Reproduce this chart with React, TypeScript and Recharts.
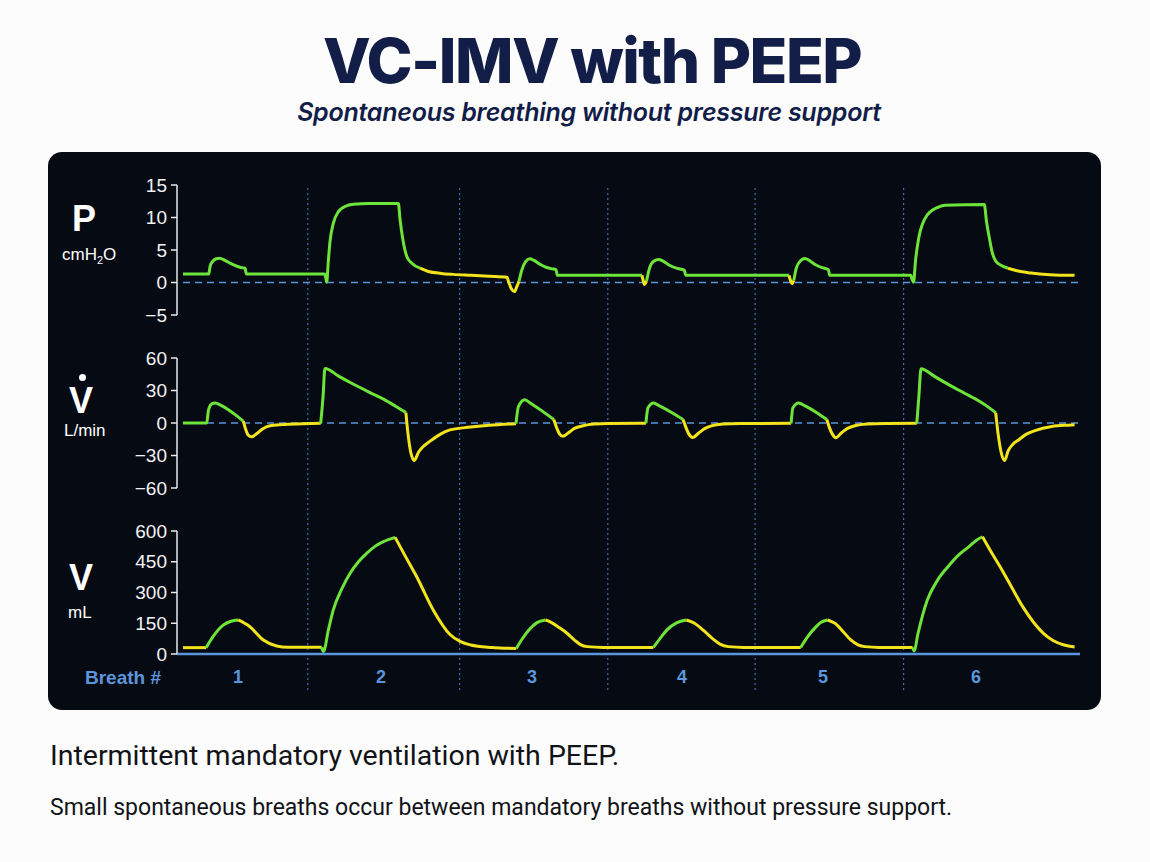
import React from 'react';
import { LineChart, Line, XAxis, YAxis, ReferenceLine } from 'recharts';

type Pt = [number, number];
type Seg = { insp: boolean; pts: Pt[] };

// time in seconds, green = inspiration, yellow = expiration
const pressureSegs: Seg[] = [
  { insp: true, pts: [[0, 1.3], [0.86, 1.3], [0.9, 2.4], [0.98, 3.2], [1.1, 3.65], [1.22, 3.75], [1.4, 3.4], [1.6, 2.9], [1.8, 2.5], [2.0, 2.25], [2.07, 2.2], [2.11, 1.3], [4.72, 1.3], [4.76, 0.7], [4.79, 0.05], [4.84, 3.0], [4.9, 6.3], [5.01, 9.1], [5.18, 10.9], [5.4, 11.7], [5.68, 12.05], [6.2, 12.15], [7.18, 12.15], [7.23, 9.9], [7.34, 6.3], [7.46, 4.0], [7.62, 3.0], [7.9, 2.2]] },
  { insp: false, pts: [[7.9, 2.2], [8.18, 1.7], [8.6, 1.4], [9.0, 1.25], [9.6, 1.1], [10.2, 0.95], [10.8, 0.8], [10.86, 0.0], [10.95, -1.0], [11.05, -1.4], [11.13, -0.6], [11.2, 0.2]] },
  { insp: true, pts: [[11.2, 0.2], [11.3, 2.0], [11.42, 3.2], [11.56, 3.65], [11.7, 3.4], [11.9, 2.8], [12.1, 2.35], [12.3, 2.1], [12.43, 2.0], [12.48, 1.1], [15.3, 1.1]] },
  { insp: false, pts: [[15.3, 1.1], [15.34, 0.3], [15.38, -0.3], [15.45, 0.2]] },
  { insp: true, pts: [[15.45, 0.2], [15.55, 2.2], [15.7, 3.3], [15.86, 3.55], [16.0, 3.3], [16.2, 2.7], [16.45, 2.2], [16.71, 1.9], [16.76, 1.1], [20.2, 1.1]] },
  { insp: false, pts: [[20.2, 1.1], [20.25, 0.3], [20.3, -0.2], [20.36, 0.3]] },
  { insp: true, pts: [[20.36, 0.3], [20.45, 2.3], [20.6, 3.4], [20.73, 3.7], [20.9, 3.3], [21.1, 2.7], [21.3, 2.3], [21.51, 2.0], [21.56, 1.1], [24.26, 1.1], [24.3, 0.5], [24.35, 0.05], [24.42, 3.5], [24.53, 7.0], [24.65, 9.0], [24.81, 10.4], [25.0, 11.2], [25.15, 11.55], [25.4, 11.9], [26.71, 12.0], [26.78, 9.5], [26.88, 6.8], [26.98, 4.5], [27.09, 3.3], [27.25, 2.7], [27.5, 2.2]] },
  { insp: false, pts: [[27.5, 2.2], [27.8, 1.8], [28.27, 1.45], [28.9, 1.2], [29.72, 1.1]] },
];

const flowSegs: Seg[] = [
  { insp: true, pts: [[0, 0], [0.79, 0], [0.85, 12], [0.95, 17.5], [1.07, 18.5], [1.25, 16.5], [1.5, 12.5], [1.75, 7.5], [2.01, 1.7]] },
  { insp: false, pts: [[2.01, 1.7], [2.08, -5], [2.17, -11], [2.29, -12.8], [2.45, -10], [2.65, -5.5], [2.9, -2.6], [3.3, -1.5], [4.0, -0.8], [4.59, -0.3]] },
  { insp: true, pts: [[4.59, -0.3], [4.67, 25], [4.73, 50.4], [5.2, 43], [5.7, 35.5], [6.2, 28.5], [6.7, 21.8], [7.1, 15.2], [7.43, 9.6]] },
  { insp: false, pts: [[7.43, 9.6], [7.5, -10], [7.6, -28], [7.71, -34.5], [7.85, -27], [8.0, -22], [8.25, -16.5], [8.6, -10], [8.9, -6.4], [9.5, -4], [10.2, -2], [11.1, -0.6]] },
  { insp: true, pts: [[11.1, -0.6], [11.18, 15], [11.39, 21.4], [11.6, 18], [12.0, 10.5], [12.36, 3.2]] },
  { insp: false, pts: [[12.36, 3.2], [12.45, -4], [12.55, -10], [12.66, -12.2], [12.85, -9], [13.05, -5], [13.33, -2.6], [13.7, -1], [14.2, -0.5], [15.43, -0.3]] },
  { insp: true, pts: [[15.43, -0.3], [15.5, 14], [15.68, 18.5], [15.9, 15.5], [16.3, 9.5], [16.67, 3.2]] },
  { insp: false, pts: [[16.67, 3.2], [16.77, -4.5], [16.87, -10.5], [16.99, -13.3], [17.2, -9], [17.4, -5], [17.61, -2.6], [18.0, -1], [18.6, -0.5], [20.27, -0.3]] },
  { insp: true, pts: [[20.27, -0.3], [20.33, 14], [20.52, 18.5], [20.75, 15.5], [21.1, 10], [21.46, 3.2]] },
  { insp: false, pts: [[21.46, 3.2], [21.55, -4.5], [21.65, -10.5], [21.76, -13.6], [21.95, -9], [22.15, -5], [22.39, -2.6], [22.8, -1], [23.5, -0.5], [24.46, -0.3]] },
  { insp: true, pts: [[24.46, -0.3], [24.53, 25], [24.6, 50.1], [25.05, 43], [25.55, 35], [26.05, 27.5], [26.55, 20], [26.9, 13.5], [27.09, 9.6]] },
  { insp: false, pts: [[27.09, 9.6], [27.17, -10], [27.28, -28], [27.39, -34.5], [27.5, -26], [27.65, -20], [27.85, -15.7], [28.1, -10.5], [28.4, -7], [28.96, -3.2], [29.51, -2], [29.72, -1.7]] },
];

const volumeSegs: Seg[] = [
  { insp: false, pts: [[0, 31], [0.77, 31]] },
  { insp: true, pts: [[0.77, 31], [1.0, 85], [1.34, 141], [1.6, 160], [1.84, 166]] },
  { insp: false, pts: [[1.84, 166], [2.23, 133], [2.68, 68], [3.12, 39], [3.5, 33], [4.62, 33]] },
  { insp: true, pts: [[4.62, 33], [4.68, 12], [4.85, 120], [5.01, 215], [5.3, 320], [5.57, 394], [5.85, 450], [6.12, 491], [6.4, 525], [6.68, 548], [7.07, 569]] },
  { insp: false, pts: [[7.07, 569], [7.4, 480], [7.79, 377], [8.34, 215], [8.9, 95], [9.25, 60], [9.59, 44], [10.28, 32], [11.11, 27]] },
  { insp: true, pts: [[11.11, 27], [11.3, 72], [11.53, 117], [11.8, 153], [12.08, 166]] },
  { insp: false, pts: [[12.08, 166], [12.3, 152], [12.55, 128], [12.77, 105], [13.05, 68], [13.25, 46], [13.47, 36], [14.0, 32], [15.68, 32]] },
  { insp: true, pts: [[15.68, 32], [15.9, 75], [16.15, 120], [16.45, 152], [16.78, 166]] },
  { insp: false, pts: [[16.78, 166], [17.05, 150], [17.35, 115], [17.65, 75], [17.9, 48], [18.17, 36], [18.7, 32], [20.59, 32]] },
  { insp: true, pts: [[20.59, 32], [20.8, 80], [21.05, 125], [21.27, 155], [21.49, 166]] },
  { insp: false, pts: [[21.49, 166], [21.75, 148], [22.0, 110], [22.25, 70], [22.5, 45], [22.73, 36], [23.2, 32], [24.32, 32]] },
  { insp: true, pts: [[24.32, 32], [24.37, 15], [24.5, 100], [24.81, 263], [25.15, 360], [25.5, 426], [25.85, 482], [26.19, 523], [26.45, 555], [26.65, 572]] },
  { insp: false, pts: [[26.65, 572], [26.95, 495], [27.3, 410], [27.65, 318], [27.99, 231], [28.35, 155], [28.68, 101], [29.0, 66], [29.37, 44], [29.72, 34]] },
];

const pressureTicks = [-5, 0, 5, 10, 15];
const flowTicks = [-60, -30, 0, 30, 60];
const volumeTicks = [0, 150, 300, 450, 600];

const breathLabels = ['1', '2', '3', '4', '5', '6'];
const breathCenters = [1.83, 6.6, 11.63, 16.63, 21.33, 26.43];
const breathBounds = [4.16, 9.22, 14.16, 19.07, 24.02];

const X_DOMAIN: [number, number] = [-0.2, 29.9];
const GREEN = '#6de43a';
const YELLOW = '#f3e31c';
const BLUE = '#5b96dc';
const NAVY = '#121d48';
const AXIS_FONT = '"Liberation Sans", Arial, sans-serif';

const fmtTick = (v: number) => String(v).replace('-', '\u2212');

function Wave({ segs, domain, ticks, top, height, zero, breaths }: {
  segs: Seg[]; domain: [number, number]; ticks: number[]; top: number; height: number; zero?: boolean; breaths?: boolean;
}) {
  return (
    <div style={{ position: 'absolute', left: 100, top }}>
      <LineChart width={990} height={height} margin={{ top: 10, right: 10, bottom: breaths ? 0 : 10, left: 0 }}>
        <XAxis
          type="number"
          dataKey="t"
          domain={X_DOMAIN}
          allowDataOverflow
          hide={!breaths}
          ticks={breaths ? breathCenters : undefined}
          tickFormatter={(v: number) => breathLabels[breathCenters.indexOf(v)] ?? ''}
          axisLine={{ stroke: BLUE, strokeWidth: 2.5 }}
          tickLine={false}
          tickSize={0}
          tickMargin={16}
          height={40}
          tick={{ fill: BLUE, fontSize: 18, fontWeight: 600, fontFamily: AXIS_FONT }}
        />
        <YAxis
          type="number"
          domain={domain}
          ticks={ticks}
          width={77}
          tickFormatter={fmtTick}
          axisLine={{ stroke: '#e6e8ec', strokeWidth: 1.5 }}
          tickLine={{ stroke: '#e6e8ec', strokeWidth: 1.5 }}
          tickSize={6}
          tickMargin={4}
          tick={{ fill: '#f2f3f5', fontSize: 19, fontFamily: AXIS_FONT }}
          interval={0}
        />
        {zero && (
          <ReferenceLine segment={[{ x: 0, y: 0 }, { x: 29.9, y: 0 }]} stroke={BLUE} strokeWidth={1.5} strokeDasharray="7 5" />
        )}
        {segs.map((s, i) => (
          <Line
            key={i}
            data={s.pts.map(([t, v]) => ({ t, v }))}
            dataKey="v"
            type="monotone"
            stroke={s.insp ? GREEN : YELLOW}
            strokeWidth={3}
            dot={false}
            activeDot={false}
            isAnimationActive={false}
          />
        ))}
      </LineChart>
    </div>
  );
}

function BreathGrid() {
  return (
    <div style={{ position: 'absolute', left: 100, top: 175 }}>
      <LineChart width={990} height={515} margin={{ top: 10, right: 10, bottom: 0, left: 77 }}>
        <XAxis type="number" dataKey="t" domain={X_DOMAIN} hide />
        <YAxis type="number" domain={[0, 1]} hide />
        <Line data={[{ t: 0, v: 0 }, { t: 29.9, v: 0 }]} dataKey="v" stroke="transparent" dot={false} isAnimationActive={false} />
        {breathBounds.map((b) => (
          <ReferenceLine key={b} x={b} stroke="#3d6cb4" strokeWidth={1.2} strokeDasharray="2 3" />
        ))}
      </LineChart>
    </div>
  );
}

const label: React.CSSProperties = { position: 'absolute', color: '#fff', fontFamily: AXIS_FONT, whiteSpace: 'nowrap', lineHeight: 1 };

export default function App() {
  return (
    <div style={{ position: 'absolute', left: 0, top: 0, width: 1150, height: 862, background: '#fcfcfc', overflow: 'hidden' }}>
      <div style={{ position: 'absolute', left: 592, top: 30, transform: 'translateX(-50%)', whiteSpace: 'nowrap', fontFamily: 'Inter, sans-serif', fontWeight: 800, fontSize: 62, letterSpacing: -1.5, lineHeight: 1, color: NAVY }}>
        VC-IMV with PEEP
      </div>
      <div style={{ position: 'absolute', left: 589, top: 100, transform: 'translateX(-50%)', whiteSpace: 'nowrap', fontFamily: 'Inter, sans-serif', fontWeight: 600, fontStyle: 'italic', fontSize: 25, letterSpacing: -0.25, lineHeight: 1, color: NAVY }}>
        Spontaneous breathing without pressure support
      </div>

      <div style={{ position: 'absolute', left: 48, top: 152, width: 1053, height: 558, background: '#060a12', borderRadius: 14 }} />

      <div style={{ ...label, left: 72, top: 201, fontSize: 36, fontWeight: 700 }}>P</div>
      <div style={{ ...label, left: 62, top: 246, fontSize: 17 }}>cmH<sub style={{ fontSize: 11, verticalAlign: -4 }}>2</sub>O</div>

      <div style={{ position: 'absolute', left: 79, top: 374, width: 7, height: 7, borderRadius: 4, background: '#fff' }} />
      <div style={{ ...label, left: 69, top: 383, fontSize: 36, fontWeight: 700 }}>V</div>
      <div style={{ ...label, left: 64, top: 422, fontSize: 17 }}>L/min</div>

      <div style={{ ...label, left: 69, top: 560, fontSize: 36, fontWeight: 700 }}>V</div>
      <div style={{ ...label, left: 68, top: 604, fontSize: 17 }}>mL</div>

      <div style={{ ...label, left: 85, top: 668, fontSize: 19, fontWeight: 700, color: BLUE }}>Breath #</div>

      <BreathGrid />
      <Wave segs={pressureSegs} domain={[-5, 15]} ticks={pressureTicks} top={175} height={150} zero />
      <Wave segs={flowSegs} domain={[-60, 60]} ticks={flowTicks} top={348} height={150} zero />
      <Wave segs={volumeSegs} domain={[0, 600]} ticks={volumeTicks} top={521} height={173} breaths />

      <div style={{ position: 'absolute', left: 50, top: 742, whiteSpace: 'nowrap', fontFamily: 'Roboto, sans-serif', fontSize: 28.5, lineHeight: 1, color: '#111318' }}>
        Intermittent mandatory ventilation with PEEP.
      </div>
      <div style={{ position: 'absolute', left: 50, top: 796, whiteSpace: 'nowrap', fontFamily: 'Roboto, sans-serif', fontSize: 23, lineHeight: 1, color: '#111318' }}>
        Small spontaneous breaths occur between mandatory breaths without pressure support.
      </div>
    </div>
  );
}
